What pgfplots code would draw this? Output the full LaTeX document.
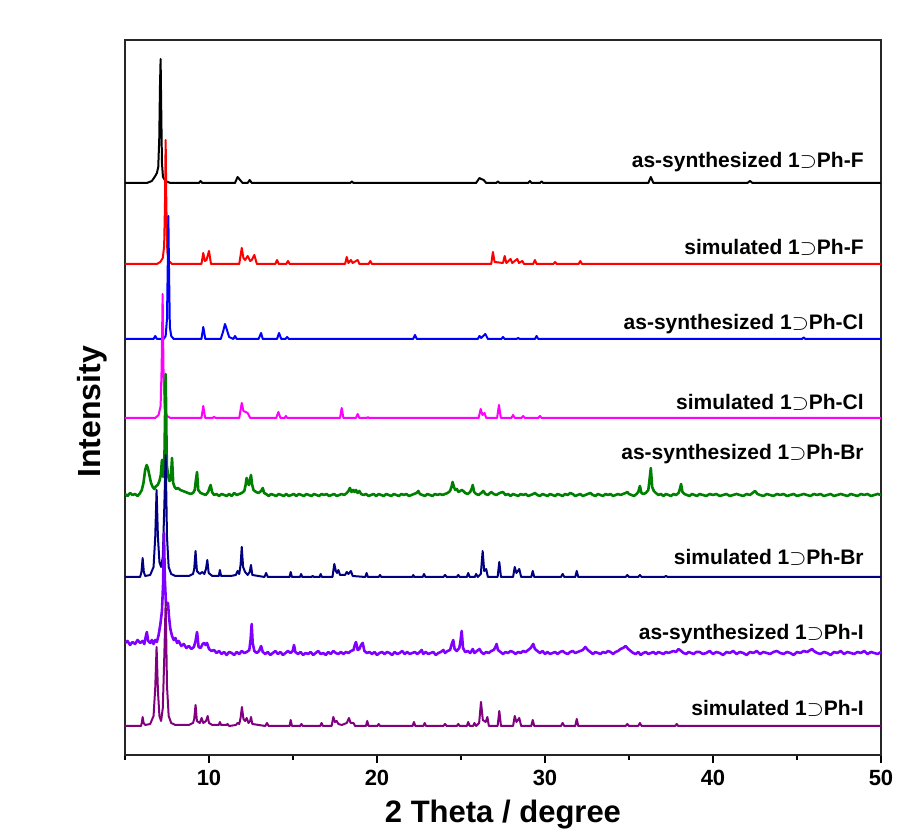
\documentclass[border=0pt]{standalone}
\usepackage{fontspec}
\setmainfont{Liberation Sans}
\usepackage{pgfplots}
\usepackage{pgfplotstable}
\pgfplotsset{compat=1.18}

\definecolor{cNavy}{RGB}{0,0,128}
\definecolor{cGreen}{RGB}{0,128,0}
\definecolor{cViolet}{RGB}{128,0,255}
\definecolor{cPurple}{RGB}{128,0,128}
\definecolor{cMagenta}{RGB}{255,0,255}
\definecolor{cRed}{RGB}{255,0,0}
\definecolor{cBlue}{RGB}{0,0,255}

% relative intensities (baseline = 0), offsets added when plotting
\pgfplotstableread[row sep=\\]{
x y\\
5 0\\ 6.3 0\\ 6.6 2\\ 6.8 7\\ 6.9 10\\ 6.98 16\\ 7.04 45\\ 7.08 95\\ 7.12 124\\ 7.16 70\\ 7.2 20\\ 7.26 6\\ 7.4 2\\ 7.7 0\\
9.4 0\\ 9.5 2\\ 9.6 0\\ 11.55 0\\ 11.7 6\\ 11.8 4\\ 11.9 2\\ 12.0 0\\ 12.3 0\\ 12.42 3\\ 12.55 0\\
18.4 0\\ 18.5 1.5\\ 18.6 0\\ 25.9 0\\ 26.1 5\\ 26.2 4\\ 26.35 3\\ 26.5 0\\ 27.1 0\\ 27.2 1.5\\ 27.3 0\\
29.0 0\\ 29.1 2\\ 29.2 0\\ 29.7 0\\ 29.8 1.5\\ 29.9 0\\ 36.15 0\\ 36.3 6\\ 36.45 0\\ 42.05 0\\ 42.2 2\\ 42.35 0\\ 50 0\\
}\asF

\pgfplotstableread[row sep=\\]{
x y\\
5 0\\ 6.9 0\\ 7.1 2\\ 7.25 6\\ 7.33 18\\ 7.38 60\\ 7.42 124\\ 7.46 60\\ 7.52 12\\ 7.62 3\\ 7.8 0\\
9.55 0\\ 9.66 11\\ 9.75 3\\ 9.85 4\\ 10.0 13\\ 10.12 0\\ 11.8 0\\ 11.95 16\\ 12.05 6\\ 12.15 4\\ 12.3 8\\ 12.45 3\\ 12.55 4\\ 12.7 9\\ 12.85 0\\
13.95 0\\ 14.05 4\\ 14.15 0\\ 14.6 0\\ 14.7 3\\ 14.8 0\\ 18.1 0\\ 18.2 7\\ 18.3 1\\ 18.45 4\\ 18.55 1\\ 18.85 4\\ 18.95 0\\ 19.5 0\\ 19.6 3\\ 19.7 0\\
26.8 0\\ 26.9 12\\ 27.0 2\\ 27.5 1\\ 27.6 8\\ 27.7 1\\ 27.95 5\\ 28.05 1\\ 28.35 5\\ 28.45 1\\ 28.65 3\\ 28.75 0\\ 29.3 0\\ 29.4 4\\ 29.5 0\\
30.5 0\\ 30.6 2\\ 30.7 0\\ 32.0 0\\ 32.1 3\\ 32.2 0\\ 50 0\\
}\simF

\pgfplotstableread[row sep=\\]{
x y\\
5 0\\ 6.7 0\\ 6.8 3\\ 6.9 0\\ 7.3 0\\ 7.42 3\\ 7.5 20\\ 7.55 80\\ 7.58 123\\ 7.62 70\\ 7.67 12\\ 7.75 3\\ 7.9 0\\
9.55 0\\ 9.66 12\\ 9.78 0\\ 10.7 0\\ 10.85 8\\ 10.95 15\\ 11.05 10\\ 11.2 2\\ 11.45 0\\ 11.55 3\\ 11.65 0\\
12.95 0\\ 13.1 6\\ 13.2 0\\ 14.05 0\\ 14.17 6\\ 14.3 0\\ 14.55 0\\ 14.65 2\\ 14.75 0\\ 22.15 0\\ 22.26 4\\ 22.37 0\\
26.0 0\\ 26.1 3\\ 26.2 1\\ 26.45 5\\ 26.6 0\\ 27.4 0\\ 27.5 2\\ 27.6 0\\ 28.3 0\\ 28.4 1\\ 28.5 0\\ 29.4 0\\ 29.5 3\\ 29.6 0\\
45.3 0\\ 45.4 1.5\\ 45.5 0\\ 50 0\\
}\asCl

\pgfplotstableread[row sep=\\]{
x y\\
5 0\\ 6.8 0\\ 7.0 3\\ 7.12 12\\ 7.18 50\\ 7.24 124\\ 7.29 50\\ 7.36 10\\ 7.5 2\\ 7.7 0\\
9.55 0\\ 9.66 12\\ 9.77 0\\ 10.2 0\\ 10.3 1\\ 10.4 0\\ 11.8 0\\ 11.95 15\\ 12.05 7\\ 12.3 5\\ 12.45 0\\
14.0 0\\ 14.13 6\\ 14.25 0\\ 14.5 0\\ 14.58 2\\ 14.66 0\\ 17.8 0\\ 17.9 10\\ 18.0 0\\ 18.75 0\\ 18.85 4\\ 18.95 0\\ 19.4 0\\ 19.46 1\\ 19.52 0\\
26.05 0\\ 26.17 9\\ 26.28 3\\ 26.4 5\\ 26.5 0\\ 27.15 0\\ 27.26 13\\ 27.37 0\\ 28.0 0\\ 28.1 3\\ 28.2 0\\ 28.6 0\\ 28.7 2\\ 28.8 0\\ 29.6 0\\ 29.7 2\\ 29.8 0\\ 50 0\\
}\simCl

\pgfplotstableread[row sep=\\]{
x y\\
5.0 1\\ 5.15 -1\\ 5.3 2\\ 5.45 0\\ 5.6 1\\ 5.75 -1\\ 5.9 2\\ 6.0 5\\ 6.1 12\\ 6.2 25\\ 6.29 30\\ 6.36 27\\ 6.45 20\\ 6.55 12\\ 6.65 8\\ 6.75 6\\ 6.85 9\\ 6.95 10\\
7.05 14\\ 7.13 20\\ 7.2 35\\ 7.27 18\\ 7.35 40\\ 7.42 121\\ 7.49 30\\ 7.56 20\\ 7.64 14\\ 7.72 15\\ 7.8 37\\ 7.87 12\\ 7.95 8\\ 8.05 6\\ 8.15 7\\ 8.3 5\\ 8.45 4\\ 8.6 3\\ 8.75 2\\ 8.9 1\\
9.05 2\\ 9.15 5\\ 9.22 15\\ 9.29 23\\ 9.36 5\\ 9.5 2\\ 9.65 1\\ 9.8 0\\ 9.95 3\\ 10.05 8\\ 10.1 10\\ 10.18 3\\ 10.3 0\\ 10.45 1\\ 10.6 -1\\ 10.75 1\\ 10.9 0\\
11.05 -1\\ 11.2 1\\ 11.35 -1\\ 11.5 2\\ 11.65 0\\ 11.8 1\\ 11.95 2\\ 12.1 4\\ 12.18 10\\ 12.24 17\\ 12.3 12\\ 12.38 10\\ 12.45 16\\ 12.5 20\\ 12.56 11\\ 12.65 5\\ 12.8 3\\ 12.95 2\\
13.1 4\\ 13.2 7\\ 13.28 2\\ 13.4 1\\ 13.55 -1\\ 13.7 1\\ 13.85 0\\ 14.0 -1\\ 14.15 1\\ 14.3 0\\ 14.45 -1\\ 14.6 1\\ 14.75 -1\\ 14.9 0\\ 15.05 1\\ 15.2 -1\\ 15.35 1\\ 15.5 0\\
15.65 -1\\ 15.8 1\\ 15.95 0\\ 16.1 -1\\ 16.25 1\\ 16.4 0\\ 16.55 -1\\ 16.7 1\\ 16.85 0\\ 17.0 1\\ 17.15 -1\\ 17.3 0\\ 17.45 1\\ 17.6 -1\\ 17.75 0\\ 17.9 1\\ 18.05 0\\
18.2 2\\ 18.3 4\\ 18.39 7\\ 18.48 3\\ 18.58 5\\ 18.66 3\\ 18.75 5\\ 18.85 2\\ 18.95 4\\ 19.05 1\\ 19.2 0\\ 19.35 1\\ 19.5 -1\\ 19.65 0\\ 19.8 1\\ 19.95 -1\\
20.1 1\\ 20.25 0\\ 20.4 -1\\ 20.55 1\\ 20.7 0\\ 20.85 -1\\ 21.0 1\\ 21.15 0\\ 21.3 -1\\ 21.45 1\\ 21.6 0\\ 21.75 1\\ 21.9 -1\\ 22.05 0\\ 22.2 1\\ 22.35 2\\ 22.46 4\\ 22.55 1\\
22.7 0\\ 22.85 -1\\ 23.0 1\\ 23.15 0\\ 23.3 -1\\ 23.45 1\\ 23.6 0\\ 23.75 1\\ 23.9 0\\ 24.05 1\\ 24.2 2\\ 24.35 4\\ 24.45 9\\ 24.5 13\\ 24.58 8\\ 24.66 5\\ 24.75 6\\ 24.85 3\\
24.95 4\\ 25.05 5\\ 25.13 4\\ 25.25 2\\ 25.4 1\\ 25.55 3\\ 25.65 7\\ 25.7 10\\ 25.78 3\\ 25.9 1\\ 26.05 0\\ 26.2 2\\ 26.33 4\\ 26.45 1\\ 26.6 0\\ 26.8 3\\ 26.95 1\\
27.1 0\\ 27.3 2\\ 27.5 3\\ 27.65 0\\ 27.8 1\\ 27.95 -1\\ 28.1 1\\ 28.25 0\\ 28.4 -1\\ 28.55 1\\ 28.7 0\\ 28.85 1\\ 29.0 -1\\ 29.15 0\\ 29.3 1\\ 29.4 2\\ 29.55 0\\ 29.7 -1\\
29.85 1\\ 30.0 0\\ 30.15 -1\\ 30.3 1\\ 30.45 0\\ 30.6 -1\\ 30.75 1\\ 30.9 0\\ 31.05 -1\\ 31.2 1\\ 31.35 0\\ 31.5 2\\ 31.65 1\\ 31.8 -1\\ 31.95 0\\ 32.1 1\\ 32.25 -1\\
32.4 0\\ 32.55 1\\ 32.7 2\\ 32.85 0\\ 33.0 -1\\ 33.15 1\\ 33.3 0\\ 33.45 -1\\ 33.6 1\\ 33.75 0\\ 33.9 1\\ 34.05 -1\\ 34.2 0\\ 34.35 1\\ 34.5 0\\ 34.65 1\\ 34.8 2\\ 34.9 3\\
35.0 1\\ 35.15 0\\ 35.3 -1\\ 35.45 1\\ 35.55 3\\ 35.65 9\\ 35.74 2\\ 35.85 1\\ 36.0 2\\ 36.15 5\\ 36.22 15\\ 36.3 27\\ 36.38 8\\ 36.48 4\\ 36.6 2\\ 36.75 0\\ 36.9 1\\
37.05 -1\\ 37.2 1\\ 37.35 0\\ 37.5 -1\\ 37.65 1\\ 37.8 0\\ 37.95 2\\ 38.03 6\\ 38.1 11\\ 38.18 3\\ 38.3 1\\ 38.45 0\\ 38.6 -1\\ 38.75 1\\ 38.9 0\\ 39.05 -1\\ 39.2 1\\
39.4 0\\ 39.6 -1\\ 39.8 1\\ 40.0 0\\ 40.2 1\\ 40.4 -1\\ 40.6 0\\ 40.8 1\\ 41.0 -1\\ 41.2 0\\ 41.4 1\\ 41.6 0\\ 41.8 -1\\ 42.0 1\\ 42.2 0\\ 42.35 2\\ 42.5 4\\ 42.65 1\\
42.8 0\\ 43.0 -1\\ 43.2 1\\ 43.4 0\\ 43.6 -1\\ 43.8 1\\ 44.0 0\\ 44.2 1\\ 44.4 -1\\ 44.6 0\\ 44.8 1\\ 45.0 -1\\ 45.2 0\\ 45.4 1\\ 45.6 0\\ 45.8 -1\\ 46.0 1\\ 46.2 0\\
46.4 1\\ 46.6 -1\\ 46.8 0\\ 47.0 1\\ 47.2 -1\\ 47.4 0\\ 47.6 1\\ 47.8 0\\ 48.0 -1\\ 48.2 1\\ 48.4 0\\ 48.6 -1\\ 48.8 1\\ 49.0 0\\ 49.2 1\\ 49.4 -1\\ 49.6 0\\ 49.8 1\\ 50.0 0\\
}\asBr

\pgfplotstableread[row sep=\\]{
x y\\
5 0\\ 5.9 0\\ 5.98 5\\ 6.05 19\\ 6.12 5\\ 6.2 1\\ 6.5 2\\ 6.7 10\\ 6.8 40\\ 6.88 87\\ 6.96 40\\ 7.05 15\\ 7.15 10\\ 7.25 20\\ 7.34 70\\ 7.42 122\\ 7.5 40\\ 7.6 10\\ 7.75 3\\ 8.0 1\\
8.8 1\\ 9.05 3\\ 9.12 8\\ 9.2 26\\ 9.28 6\\ 9.45 3\\ 9.6 5\\ 9.72 3\\ 9.82 8\\ 9.9 17\\ 9.98 4\\ 10.2 1\\ 10.58 1\\ 10.65 7\\ 10.72 1\\ 11.3 1\\ 11.6 2\\ 11.7 6\\ 11.8 3\\
11.88 12\\ 11.95 30\\ 12.03 10\\ 12.15 5\\ 12.3 2\\ 12.42 5\\ 12.5 12\\ 12.58 2\\ 13.3 0\\ 13.4 4\\ 13.5 0\\ 14.8 0\\ 14.86 5\\ 14.94 0\\ 15.42 0\\ 15.48 3\\ 15.56 0\\
16.1 0\\ 16.17 1\\ 16.25 0\\ 16.58 0\\ 16.65 3\\ 16.72 0\\ 17.35 0\\ 17.46 13\\ 17.55 6\\ 17.62 4\\ 17.7 7\\ 17.8 2\\ 18.1 2\\ 18.2 5\\ 18.3 3\\ 18.45 6\\ 18.55 1\\
19.3 0\\ 19.38 4\\ 19.46 0\\ 20.1 0\\ 20.18 2\\ 20.26 0\\ 22.1 0\\ 22.16 2\\ 22.22 0\\ 22.72 0\\ 22.8 3\\ 22.88 0\\ 23.95 0\\ 24.05 2\\ 24.15 0\\ 24.75 0\\ 24.84 2\\ 24.92 0\\
25.35 0\\ 25.43 4\\ 25.52 0\\ 25.82 0\\ 25.9 3\\ 26.0 0\\ 26.18 3\\ 26.29 26\\ 26.38 6\\ 26.5 8\\ 26.6 0\\ 27.18 0\\ 27.28 15\\ 27.38 0\\ 28.1 0\\ 28.2 10\\ 28.3 4\\ 28.47 8\\ 28.58 0\\
29.18 0\\ 29.27 6\\ 29.36 0\\ 30.95 0\\ 31.05 3\\ 31.15 0\\ 31.8 0\\ 31.89 6\\ 31.98 0\\ 34.8 0\\ 34.9 2\\ 35.0 0\\ 35.55 0\\ 35.65 2\\ 35.75 0\\ 37.1 0\\ 37.2 1\\ 37.3 0\\ 50 0\\
}\simBr

\pgfplotstableread[row sep=\\]{
x y\\
5.0 10\\ 5.15 12\\ 5.3 8\\ 5.45 11\\ 5.6 9\\ 5.75 13\\ 5.9 10\\ 6.05 12\\ 6.15 9\\ 6.22 15\\ 6.3 21\\ 6.38 12\\ 6.5 10\\ 6.6 13\\ 6.7 9\\ 6.8 13\\ 6.9 11\\
7.0 18\\ 7.1 28\\ 7.2 42\\ 7.27 70\\ 7.32 120\\ 7.37 75\\ 7.43 52\\ 7.5 48\\ 7.56 50\\ 7.62 36\\ 7.7 24\\ 7.8 17\\ 7.9 13\\ 8.0 15\\ 8.1 10\\ 8.2 12\\ 8.35 7\\ 8.5 9\\
8.65 5\\ 8.8 7\\ 8.95 4\\ 9.1 6\\ 9.2 12\\ 9.29 21\\ 9.38 6\\ 9.5 5\\ 9.62 9\\ 9.7 10\\ 9.8 8\\ 9.88 10\\ 10.0 4\\ 10.15 2\\ 10.3 3\\ 10.45 0\\ 10.6 2\\ 10.75 -1\\
10.9 1\\ 11.05 -2\\ 11.2 1\\ 11.35 0\\ 11.5 -2\\ 11.65 1\\ 11.8 -1\\ 11.95 2\\ 12.1 0\\ 12.25 1\\ 12.4 3\\ 12.48 14\\ 12.54 29\\ 12.6 10\\ 12.7 2\\ 12.85 0\\ 12.98 2\\
13.1 7\\ 13.2 1\\ 13.35 -1\\ 13.5 1\\ 13.65 -2\\ 13.8 0\\ 13.95 2\\ 14.1 -1\\ 14.25 1\\ 14.4 -2\\ 14.55 0\\ 14.7 2\\ 14.85 0\\ 14.98 2\\ 15.06 8\\ 15.14 1\\ 15.3 -1\\
15.45 1\\ 15.6 -2\\ 15.75 0\\ 15.9 -1\\ 16.05 1\\ 16.2 -2\\ 16.35 0\\ 16.5 2\\ 16.65 -1\\ 16.8 0\\ 16.95 -2\\ 17.1 1\\ 17.25 -1\\ 17.4 2\\ 17.55 0\\ 17.7 -1\\ 17.85 1\\
18.0 -1\\ 18.15 1\\ 18.3 0\\ 18.45 2\\ 18.6 3\\ 18.68 8\\ 18.75 11\\ 18.85 3\\ 18.95 4\\ 19.05 8\\ 19.15 10\\ 19.25 2\\ 19.4 0\\ 19.55 1\\ 19.7 -1\\ 19.85 1\\ 20.0 -2\\
20.15 0\\ 20.3 1\\ 20.45 -1\\ 20.6 1\\ 20.75 0\\ 20.9 -2\\ 21.05 1\\ 21.2 -1\\ 21.35 0\\ 21.5 2\\ 21.65 -1\\ 21.8 1\\ 21.95 -1\\ 22.1 0\\ 22.25 1\\ 22.4 -1\\ 22.55 1\\
22.66 3\\ 22.75 -1\\ 22.9 1\\ 23.05 -1\\ 23.2 0\\ 23.35 1\\ 23.5 -2\\ 23.65 0\\ 23.8 1\\ 23.95 3\\ 24.05 0\\ 24.2 2\\ 24.35 3\\ 24.45 9\\ 24.54 13\\ 24.62 4\\ 24.75 2\\
24.9 5\\ 24.97 12\\ 25.04 22\\ 25.12 5\\ 25.25 1\\ 25.4 2\\ 25.55 0\\ 25.7 4\\ 25.8 0\\ 25.95 2\\ 26.1 4\\ 26.2 1\\ 26.35 -1\\ 26.5 1\\ 26.65 0\\ 26.8 2\\ 26.95 3\\
27.05 6\\ 27.12 9\\ 27.2 3\\ 27.35 1\\ 27.5 -1\\ 27.65 1\\ 27.8 0\\ 27.95 2\\ 28.1 1\\ 28.25 -1\\ 28.4 1\\ 28.55 0\\ 28.7 2\\ 28.85 1\\ 29.0 3\\ 29.15 5\\ 29.3 9\\ 29.4 4\\
29.55 2\\ 29.7 0\\ 29.85 2\\ 30.0 -1\\ 30.15 1\\ 30.3 -1\\ 30.45 0\\ 30.6 1\\ 30.75 -1\\ 30.9 1\\ 31.05 2\\ 31.2 0\\ 31.35 -1\\ 31.5 1\\ 31.65 2\\ 31.8 0\\ 31.95 1\\
32.1 2\\ 32.25 3\\ 32.4 6\\ 32.55 3\\ 32.7 1\\ 32.85 -1\\ 33.0 1\\ 33.15 0\\ 33.3 -1\\ 33.45 1\\ 33.6 0\\ 33.75 2\\ 33.9 1\\ 34.05 -1\\ 34.2 1\\ 34.35 2\\ 34.5 4\\
34.65 5\\ 34.8 7\\ 34.95 4\\ 35.1 2\\ 35.25 0\\ 35.4 -1\\ 35.55 1\\ 35.7 -2\\ 35.85 0\\ 36.0 1\\ 36.15 -1\\ 36.3 0\\ 36.45 1\\ 36.6 -1\\ 36.75 1\\ 36.9 0\\ 37.05 -1\\
37.2 1\\ 37.35 0\\ 37.5 1\\ 37.65 2\\ 37.8 1\\ 37.95 4\\ 38.1 2\\ 38.25 0\\ 38.4 -1\\ 38.55 1\\ 38.7 0\\ 38.85 -1\\ 39.0 1\\ 39.2 1\\ 39.4 -1\\ 39.6 0\\ 39.8 2\\
40.0 -1\\ 40.2 1\\ 40.4 0\\ 40.6 -2\\ 40.8 1\\ 41.0 0\\ 41.2 2\\ 41.4 -1\\ 41.6 1\\ 41.8 0\\ 42.0 -2\\ 42.2 1\\ 42.4 0\\ 42.6 2\\ 42.8 -1\\ 43.0 1\\ 43.2 0\\ 43.4 -1\\
43.6 1\\ 43.8 2\\ 44.0 0\\ 44.2 -1\\ 44.4 1\\ 44.6 0\\ 44.8 -2\\ 45.0 1\\ 45.2 0\\ 45.4 2\\ 45.6 1\\ 45.8 3\\ 45.9 4\\ 46.0 2\\ 46.2 0\\ 46.4 -1\\ 46.6 1\\ 46.8 0\\
47.0 -2\\ 47.2 1\\ 47.4 0\\ 47.6 2\\ 47.8 -1\\ 48.0 1\\ 48.2 0\\ 48.4 -1\\ 48.6 1\\ 48.8 0\\ 49.0 2\\ 49.2 -1\\ 49.4 1\\ 49.6 0\\ 49.8 -1\\ 50.0 1\\
}\asI

\pgfplotstableread[row sep=\\]{
x y\\
5 0\\ 5.95 0\\ 6.0 3\\ 6.05 9\\ 6.11 3\\ 6.2 1\\ 6.5 2\\ 6.7 10\\ 6.8 38\\ 6.88 79\\ 6.96 35\\ 7.05 10\\ 7.15 5\\ 7.25 18\\ 7.34 70\\ 7.42 124\\ 7.5 40\\ 7.6 10\\ 7.75 3\\ 8.0 1\\
8.8 1\\ 9.05 3\\ 9.12 7\\ 9.2 21\\ 9.28 5\\ 9.45 3\\ 9.56 8\\ 9.66 3\\ 9.82 5\\ 9.92 10\\ 10.0 3\\ 10.2 1\\ 10.58 1\\ 10.65 4\\ 10.72 1\\ 11.05 1\\ 11.1 2\\ 11.2 0\\ 11.6 1\\ 11.7 3\\ 11.8 2\\
11.88 8\\ 11.96 19\\ 12.05 7\\ 12.15 5\\ 12.24 8\\ 12.35 3\\ 12.45 5\\ 12.5 9\\ 12.58 2\\ 13.35 0\\ 13.45 3\\ 13.55 0\\ 14.8 0\\ 14.86 6\\ 14.94 0\\ 15.42 0\\ 15.5 2\\ 15.58 0\\
16.62 0\\ 16.7 3\\ 16.78 0\\ 17.3 0\\ 17.4 9\\ 17.5 4\\ 17.6 5\\ 17.7 2\\ 17.9 1\\ 18.2 3\\ 18.33 8\\ 18.43 3\\ 18.6 3\\ 18.7 0\\
19.34 0\\ 19.42 5\\ 19.5 0\\ 20.02 0\\ 20.1 2\\ 20.18 0\\ 22.12 0\\ 22.2 4\\ 22.28 0\\ 22.76 0\\ 22.84 3\\ 22.92 0\\ 23.95 0\\ 24.05 2\\ 24.15 0\\ 24.75 0\\ 24.84 2\\ 24.92 0\\
25.35 0\\ 25.43 4\\ 25.52 0\\ 25.72 0\\ 25.8 3\\ 25.9 0\\ 26.08 3\\ 26.19 24\\ 26.3 6\\ 26.47 4\\ 26.57 9\\ 26.66 0\\ 27.18 0\\ 27.28 15\\ 27.38 0\\ 28.1 0\\ 28.2 10\\ 28.3 4\\ 28.47 8\\ 28.58 0\\
29.18 0\\ 29.27 6\\ 29.36 0\\ 30.95 0\\ 31.05 3\\ 31.15 0\\ 31.8 0\\ 31.89 7\\ 31.98 0\\ 34.8 0\\ 34.9 2\\ 35.0 0\\ 35.55 0\\ 35.65 3\\ 35.75 0\\ 37.75 0\\ 37.84 2\\ 37.93 0\\ 50 0\\
}\simI

\begin{document}
\begin{tikzpicture}
\begin{axis}[
  at={(0,0)}, anchor=south west,
  width=378pt, height=357.5pt, scale only axis,
  xmin=5, xmax=50, ymin=0, ymax=715,
  axis line style={line width=0.75pt, black!85},
  xtick={10,20,30,40,50},
  minor xtick={5,15,25,35,45},
  ytick=\empty,
  xtick pos=bottom,
  tick align=outside,
  major tick length=4pt, minor tick length=2.5pt,
  every tick/.style={line width=0.75pt, black},
  /pgf/number format/assume math mode=true,
  xticklabel style={font=\fontsize{11}{11}\selectfont\bfseries, inner sep=0pt, anchor=north, yshift=-3.5pt},
  xlabel={2 Theta / degree},
  ylabel={Intensity},
  every axis x label/.style={at={([yshift=-22.5pt]rel axis cs:0.5,0)}, anchor=north, inner sep=0pt,
    font=\fontsize{15.5}{16}\selectfont\bfseries},
  every axis y label/.style={at={([xshift=-8.5pt]rel axis cs:0,0.48)}, rotate=90, anchor=south, inner sep=0pt,
    font=\fontsize{16}{16}\selectfont\bfseries},
  every axis plot/.append style={line width=1pt, line join=round},
]
\addplot[black]    table[x=x, y expr=\thisrow{y}+572] {\asF};
\addplot[cRed]     table[x=x, y expr=\thisrow{y}+491] {\simF};
\addplot[cBlue]    table[x=x, y expr=\thisrow{y}+416] {\asCl};
\addplot[cMagenta] table[x=x, y expr=\thisrow{y}+337] {\simCl};
\addplot[cGreen, line width=1.3pt]  table[x=x, y expr=\thisrow{y}+260] {\asBr};
\addplot[cNavy]    table[x=x, y expr=\thisrow{y}+178] {\simBr};
\addplot[cViolet, line width=1.3pt] table[x=x, y expr=\thisrow{y}+102] {\asI};
\addplot[cPurple]  table[x=x, y expr=\thisrow{y}+29]  {\simI};

\begin{scope}[every node/.style={anchor=base east, inner sep=0pt, font=\fontsize{10.5}{12}\selectfont\bfseries}]
\node at (axis cs:48.99,587) {as-synthesized 1$\supset$Ph-F};
\node at (axis cs:48.99,500) {simulated 1$\supset$Ph-F};
\node at (axis cs:48.99,425) {as-synthesized 1$\supset$Ph-Cl};
\node at (axis cs:48.99,345) {simulated 1$\supset$Ph-Cl};
\node at (axis cs:48.99,295) {as-synthesized 1$\supset$Ph-Br};
\node at (axis cs:48.99,190) {simulated 1$\supset$Ph-Br};
\node at (axis cs:48.99,115) {as-synthesized 1$\supset$Ph-I};
\node at (axis cs:48.99,39)  {simulated 1$\supset$Ph-I};
\end{scope}
\end{axis}
\pgfresetboundingbox
\useasboundingbox (-62.5pt,-42pt) rectangle (399pt,377.5pt);
\end{tikzpicture}
\end{document}
